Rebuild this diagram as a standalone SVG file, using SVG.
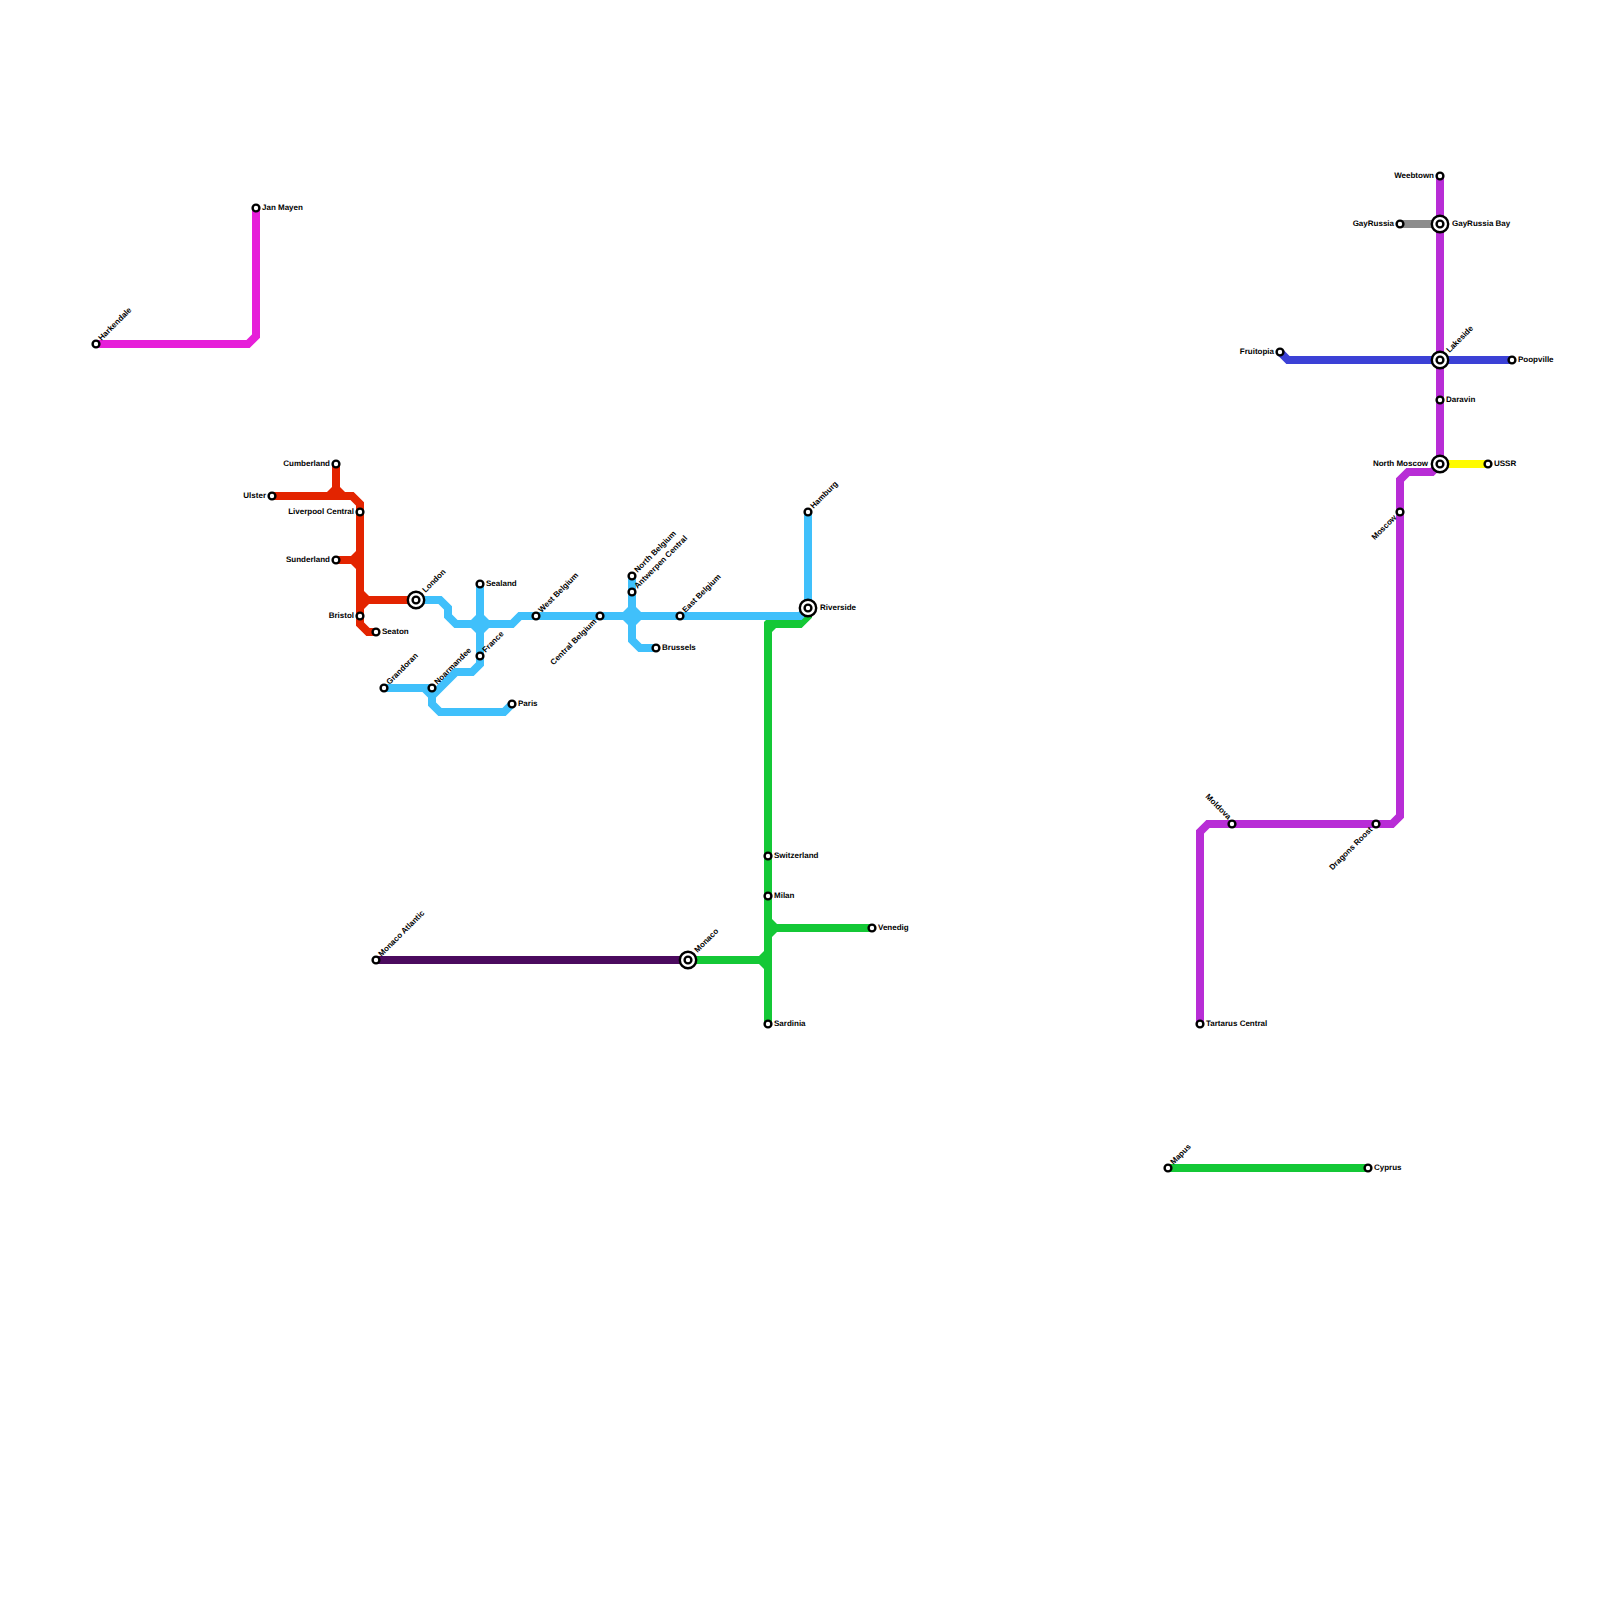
<svg xmlns="http://www.w3.org/2000/svg" width="1600" height="1600" viewBox="0 0 1600 1600">
<defs>
<style>
.l{fill:none;stroke-width:8;stroke-linejoin:miter;stroke-linecap:butt}
.red{stroke:#e32400}.redf{fill:#e32400}
.blue{stroke:#40c0fb}.bluef{fill:#40c0fb}
.green{stroke:#14c836}.greenf{fill:#14c836}
.mag{stroke:#e61fd9}.dark{stroke:#4b0a5e}.pur{stroke:#b82dd6}.ind{stroke:#3b41d6}.gray{stroke:#8c8c8c}.yel{stroke:#fffb00}
.s{fill:#fff;stroke:#000;stroke-width:2.4}
text{font-family:"Liberation Sans",Arial,sans-serif;font-size:8px;font-weight:700;fill:#000;text-rendering:geometricPrecision}
.e{text-anchor:end}
</style>
<g id="st"><circle class="s" r="3.4"/></g>
<g id="ix"><circle class="s" r="8.2"/><circle class="s" r="3.4"/></g>
</defs>
<rect width="1600" height="1600" fill="#fff"/>
<g id="connectors">
<path class="l mag" d="M96,344H248L256,336V208"/>
<path class="l dark" d="M376,960H688"/>
<path class="l red" d="M272,496H352L360,504V624L368,632H376"/>
<path class="l red" d="M336,464V496"/>
<path class="l red" d="M336,560H360"/>
<path class="l red" d="M360,600H416"/>
<polygon class="redf" points="332,487 340,487 345,492 327,492"/>
<polygon class="redf" points="356,551 356,569 351,564 351,556"/>
<polygon class="redf" points="364,591 369,596 369,604 364,609"/>
<path class="l green" d="M688,960H768"/>
<path class="l green" d="M768,928H872"/>
<path class="l green" d="M776,624H800L808,616V608"/>
<path class="l green" d="M768,640V1024"/>
<polygon class="greenf" points="764,622 766,620 776,620 776,628 772,632 772,640 764,640"/>
<polygon class="greenf" points="772,919 777,924 777,932 772,937"/>
<polygon class="greenf" points="764,951 759,956 759,964 764,969"/>
<path class="l blue" d="M416,600H440L448,608V616L456,624H512L520,616H800L808,608V512"/>
<path class="l blue" d="M480,584V664L472,672H456L432,696V704L440,712H504L512,704"/>
<path class="l blue" d="M384,688H432"/>
<path class="l blue" d="M424,688L432,696"/>
<path class="l blue" d="M632,576V640L640,648H656"/>
<polygon class="bluef" points="480,611 493,624 480,637 467,624"/>
<polygon class="bluef" points="632,603 645,616 632,629 619,616"/>
<path class="l pur" d="M1440,176V464L1432,472H1408L1400,480V816L1392,824H1208L1200,832V1024"/>
<path class="l gray" d="M1400,224H1440"/>
<path class="l ind" d="M1280,352L1288,360H1512"/>
<path class="l yel" d="M1440,464H1488"/>
<path class="l green" d="M1168,1168H1368"/>
</g>
<g id="n-harkendale"><use href="#st" x="96" y="344"/><text transform="translate(101.5,341) rotate(-45)">Harkendale</text></g>
<g id="n-jan-mayen"><use href="#st" x="256" y="208"/><text x="262" y="210">Jan Mayen</text></g>
<g id="n-cumberland"><use href="#st" x="336" y="464"/><text class="e" x="330" y="466">Cumberland</text></g>
<g id="n-ulster"><use href="#st" x="272" y="496"/><text class="e" x="266" y="498">Ulster</text></g>
<g id="n-liverpool"><use href="#st" x="360" y="512"/><text class="e" x="354" y="514">Liverpool Central</text></g>
<g id="n-sunderland"><use href="#st" x="336" y="560"/><text class="e" x="330" y="562">Sunderland</text></g>
<g id="n-london"><use href="#ix" x="416" y="600"/><text transform="translate(425.5,593) rotate(-45)">London</text></g>
<g id="n-bristol"><use href="#st" x="360" y="616"/><text class="e" x="354" y="618">Bristol</text></g>
<g id="n-seaton"><use href="#st" x="376" y="632"/><text x="382" y="634">Seaton</text></g>
<g id="n-grandoran"><use href="#st" x="384" y="688"/><text transform="translate(389.5,685) rotate(-45)">Grandoran</text></g>
<g id="n-noarmandee"><use href="#st" x="432" y="688"/><text transform="translate(437.5,685) rotate(-45)">Noarmandee</text></g>
<g id="n-sealand"><use href="#st" x="480" y="584"/><text x="486" y="586">Sealand</text></g>
<g id="n-france"><use href="#st" x="480" y="656"/><text transform="translate(485.5,653) rotate(-45)">France</text></g>
<g id="n-paris"><use href="#st" x="512" y="704"/><text x="518" y="706">Paris</text></g>
<g id="n-west-belgium"><use href="#st" x="536" y="616"/><text transform="translate(541.5,613) rotate(-45)">West Belgium</text></g>
<g id="n-central-belgium"><use href="#st" x="600" y="616"/><text class="e" transform="translate(597,622) rotate(-45)">Central Belgium</text></g>
<g id="n-north-belgium"><use href="#st" x="632" y="576"/><text transform="translate(637.5,573) rotate(-45)">North Belgium</text></g>
<g id="n-antwerpen"><use href="#st" x="632" y="592"/><text transform="translate(637.5,589) rotate(-45)">Antwerpen Central</text></g>
<g id="n-east-belgium"><use href="#st" x="680" y="616"/><text transform="translate(685.5,613) rotate(-45)">East Belgium</text></g>
<g id="n-brussels"><use href="#st" x="656" y="648"/><text x="662" y="650">Brussels</text></g>
<g id="n-hamburg"><use href="#st" x="808" y="512"/><text transform="translate(813.5,509) rotate(-45)">Hamburg</text></g>
<g id="n-riverside"><use href="#ix" x="808" y="608"/><text x="820" y="610">Riverside</text></g>
<g id="n-switzerland"><use href="#st" x="768" y="856"/><text x="774" y="858">Switzerland</text></g>
<g id="n-milan"><use href="#st" x="768" y="896"/><text x="774" y="898">Milan</text></g>
<g id="n-venedig"><use href="#st" x="872" y="928"/><text x="878" y="930">Venedig</text></g>
<g id="n-sardinia"><use href="#st" x="768" y="1024"/><text x="774" y="1026">Sardinia</text></g>
<g id="n-monaco"><use href="#ix" x="688" y="960"/><text transform="translate(697.5,953) rotate(-45)">Monaco</text></g>
<g id="n-monaco-atlantic"><use href="#st" x="376" y="960"/><text transform="translate(381.5,957) rotate(-45)">Monaco Atlantic</text></g>
<g id="n-weebtown"><use href="#st" x="1440" y="176"/><text class="e" x="1434" y="178">Weebtown</text></g>
<g id="n-gayrussia"><use href="#st" x="1400" y="224"/><text class="e" x="1394" y="226">GayRussia</text></g>
<g id="n-gayrussia-bay"><use href="#ix" x="1440" y="224"/><text x="1452" y="226">GayRussia Bay</text></g>
<g id="n-fruitopia"><use href="#st" x="1280" y="352"/><text class="e" x="1274" y="354">Fruitopia</text></g>
<g id="n-lakeside"><use href="#ix" x="1440" y="360"/><text transform="translate(1449.5,353) rotate(-45)">Lakeside</text></g>
<g id="n-poopville"><use href="#st" x="1512" y="360"/><text x="1518" y="362">Poopville</text></g>
<g id="n-daravin"><use href="#st" x="1440" y="400"/><text x="1446" y="402">Daravin</text></g>
<g id="n-north-moscow"><use href="#ix" x="1440" y="464"/><text class="e" x="1428" y="466">North Moscow</text></g>
<g id="n-ussr"><use href="#st" x="1488" y="464"/><text x="1494" y="466">USSR</text></g>
<g id="n-moscow"><use href="#st" x="1400" y="512"/><text class="e" transform="translate(1397,518) rotate(-45)">Moscow</text></g>
<g id="n-dragons-roost"><use href="#st" x="1376" y="824"/><text class="e" transform="translate(1373,830) rotate(-45)">Dragons Roost</text></g>
<g id="n-moldova"><use href="#st" x="1232" y="824"/><text class="e" transform="translate(1228,820) rotate(45)">Moldova</text></g>
<g id="n-tartarus"><use href="#st" x="1200" y="1024"/><text x="1206" y="1026">Tartarus Central</text></g>
<g id="n-mapus"><use href="#st" x="1168" y="1168"/><text transform="translate(1173.5,1165) rotate(-45)">Mapus</text></g>
<g id="n-cyprus"><use href="#st" x="1368" y="1168"/><text x="1374" y="1170">Cyprus</text></g>
</svg>
